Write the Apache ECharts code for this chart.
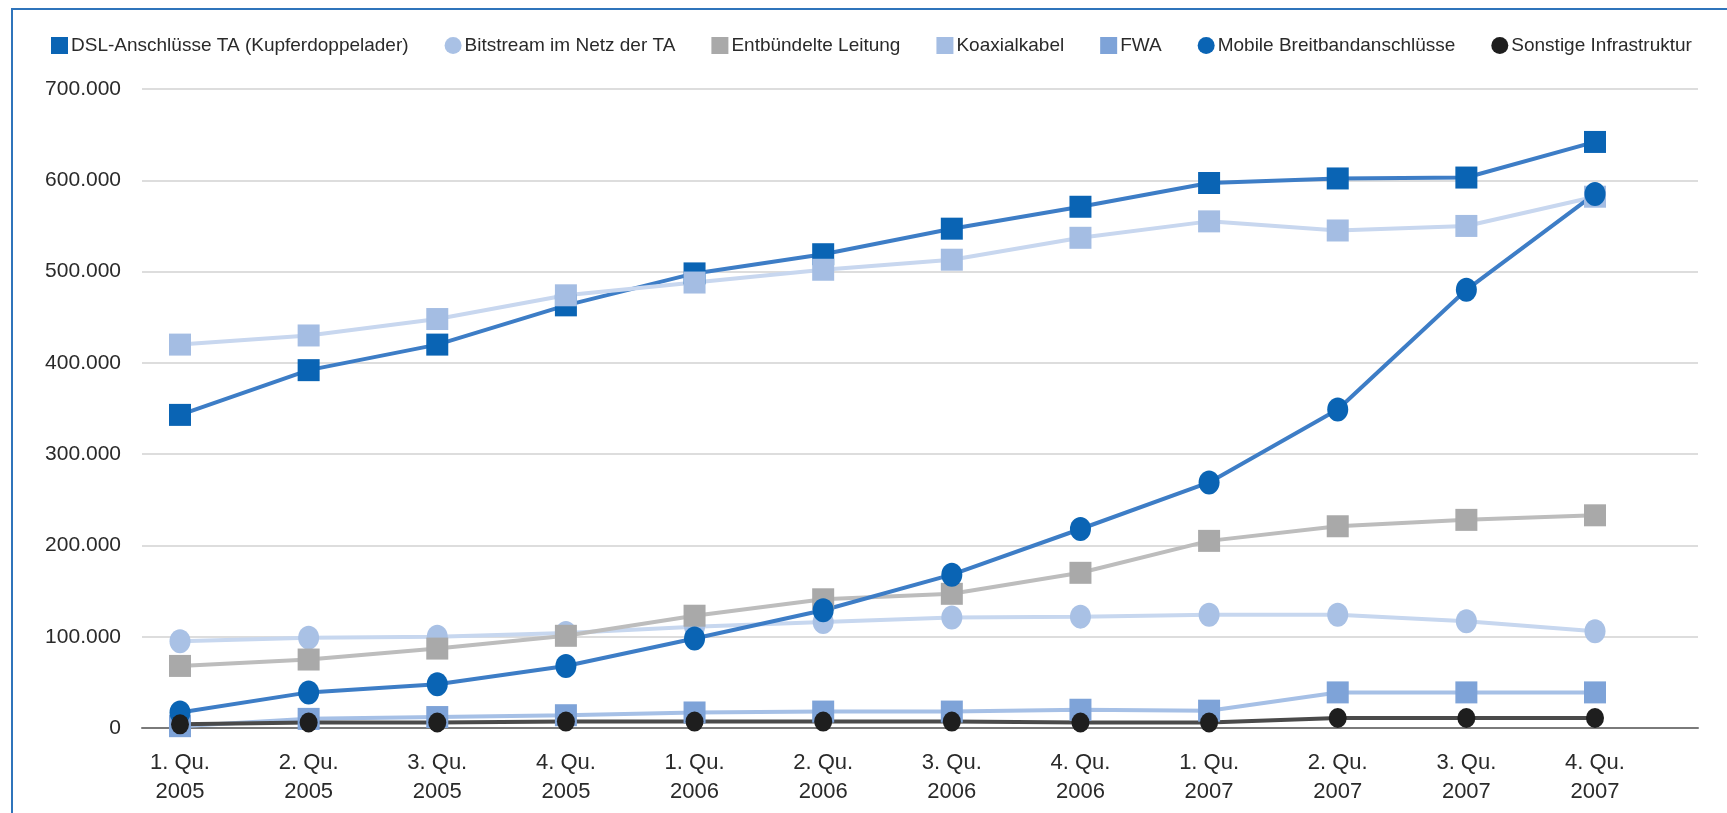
<!DOCTYPE html>
<html>
<head>
<meta charset="utf-8">
<title>Breitbandanschlüsse 2005–2007</title>
<script src="https://cdn.jsdelivr.net/npm/echarts@6/dist/echarts.min.js"></script>
<style>
  html, body { margin: 0; padding: 0; background: #ffffff; }
  #chart { width: 1727px; height: 813px; }
</style>
</head>
<body>
<div id="chart"></div>
<script>
// Quarters on the category axis
const quarters = [
  '1. Qu.\n2005', '2. Qu.\n2005', '3. Qu.\n2005', '4. Qu.\n2005',
  '1. Qu.\n2006', '2. Qu.\n2006', '3. Qu.\n2006', '4. Qu.\n2006',
  '1. Qu.\n2007', '2. Qu.\n2007', '3. Qu.\n2007', '4. Qu.\n2007'
];

// Connections per access technology
const dslTA        = [343000, 392000, 420000, 463000, 498000, 519000, 547000, 571000, 597000, 602000, 603000, 642000];
const bitstream    = [95000, 99000, 100000, 104000, 111000, 116000, 121000, 122000, 124000, 124000, 117000, 106000];
const entbuendelt  = [68000, 75000, 87000, 101000, 123000, 141000, 147000, 170000, 205000, 221000, 228000, 233000];
const koaxial      = [420000, 430000, 448000, 474000, 488000, 502000, 513000, 537000, 555000, 545000, 550000, 582000];
const fwa          = [2000, 10000, 12000, 14000, 17000, 18000, 18000, 20000, 19000, 39000, 39000, 39000];
const mobil        = [17000, 39000, 48000, 68000, 98000, 129000, 168000, 218000, 269000, 349000, 480000, 585000];
const sonstige     = [4000, 6000, 6000, 7000, 7000, 7000, 7000, 6000, 6000, 11000, 11000, 11000];

// Value axis
const yMin = 0, yMax = 700000, yStep = 100000;

const seriesNames = [
  'DSL-Anschlüsse TA (Kupferdoppelader)',
  'Bitstream im Netz der TA',
  'Entbündelte Leitung',
  'Koaxialkabel',
  'FWA',
  'Mobile Breitbandanschlüsse',
  'Sonstige Infrastruktur'
];

const FONT = '"Liberation Sans", Arial, Helvetica, sans-serif';

function fmtDE(v) {
  return String(v).replace(/\B(?=(\d{3})+(?!\d))/g, '.');
}

function lineSeries(name, data, marker, markerColor, lineColor, size) {
  return {
    name: name,
    type: 'line',
    xAxisIndex: 1,
    yAxisIndex: 1,
    data: data,
    symbol: marker,
    symbolSize: size,
    showSymbol: true,
    smooth: false,
    lineStyle: { color: lineColor, width: 4 },
    itemStyle: { color: markerColor, opacity: 1 },
    emphasis: { disabled: true },
    animation: false
  };
}

const chart = echarts.init(document.getElementById('chart'), null, { renderer: 'canvas' });

chart.setOption({
  backgroundColor: '#ffffff',
  animation: false,
  textStyle: { fontFamily: FONT },
  graphic: [{
    type: 'rect',
    z: 100,
    silent: true,
    shape: { x: 12, y: 9, width: 1800, height: 900 },
    style: { fill: 'none', stroke: '#2f74bb', lineWidth: 2 }
  }],
  legend: {
    left: 46,
    top: 31,
    itemWidth: 17,
    itemHeight: 17,
    itemGap: 36,
    textStyle: { fontFamily: FONT, fontSize: 19, color: '#2a2a2a', padding: [0, 0, 0, -2] },
    data: [
      { name: seriesNames[0], icon: 'rect' },
      { name: seriesNames[1], icon: 'circle' },
      { name: seriesNames[2], icon: 'rect' },
      { name: seriesNames[3], icon: 'rect' },
      { name: seriesNames[4], icon: 'rect' },
      { name: seriesNames[5], icon: 'circle' },
      { name: seriesNames[6], icon: 'circle' }
    ]
  },
  grid: [
    // frame for gridlines, value labels and the zero line
    { left: 142, right: 29, top: 89, bottom: 85 },
    // data area, categories centred on the quarters
    { left: 180, right: 132, top: 89, bottom: 85 }
  ],
  xAxis: [
    {
      gridIndex: 0,
      type: 'value',
      min: 0,
      max: 1,
      axisLine: { show: true, onZero: true, lineStyle: { color: '#7a7a7a', width: 2 } },
      axisTick: { show: false },
      axisLabel: { show: false },
      splitLine: { show: false }
    },
    {
      gridIndex: 1,
      type: 'category',
      boundaryGap: false,
      data: quarters,
      axisLine: { show: false },
      axisTick: { show: false },
      splitLine: { show: false },
      axisLabel: {
        interval: 0,
        margin: 20,
        fontFamily: FONT,
        fontSize: 22,
        lineHeight: 29,
        color: '#2a2a2a',
        align: 'center'
      }
    }
  ],
  yAxis: [
    {
      gridIndex: 0,
      type: 'value',
      min: yMin,
      max: yMax,
      interval: yStep,
      axisLine: { show: false },
      axisTick: { show: false },
      axisLabel: {
        margin: 21,
        fontFamily: FONT,
        fontSize: 21,
        color: '#2a2a2a',
        formatter: function (v) { return fmtDE(v); }
      },
      splitLine: { show: true, lineStyle: { color: '#d2d2d2', width: 1.5 } }
    },
    {
      gridIndex: 1,
      type: 'value',
      min: yMin,
      max: yMax,
      interval: yStep,
      show: false,
      splitLine: { show: false }
    }
  ],
  series: [
    lineSeries(seriesNames[0], dslTA, 'rect', '#0a64b4', '#3d7dc6', 22),
    lineSeries(seriesNames[1], bitstream, 'circle', '#a9c1e5', '#c7d7ef', [21, 24]),
    lineSeries(seriesNames[2], entbuendelt, 'rect', '#a9a9a9', '#bdbdbd', 22),
    lineSeries(seriesNames[3], koaxial, 'rect', '#a4bde3', '#c8d7ef', 22),
    lineSeries(seriesNames[4], fwa, 'rect', '#7ea3d8', '#a6c0e6', 22),
    lineSeries(seriesNames[5], mobil, 'circle', '#0a64b4', '#3d7dc6', [21, 24]),
    lineSeries(seriesNames[6], sonstige, 'circle', '#1e1e1e', '#4a4a4a', [18, 20])
  ]
});
</script>
</body>
</html>
